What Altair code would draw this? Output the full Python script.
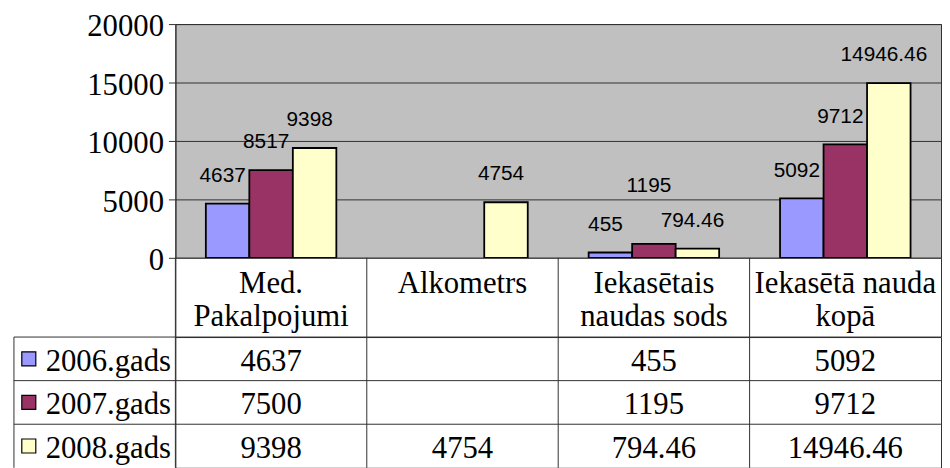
import altair as alt
import pandas as pd

categories = ["Med.\nPakalpojumi", "Alkometrs", "Iekasētais\nnaudas sods", "Iekasētā nauda\nkopā"]
series = ["2006.gads", "2007.gads", "2008.gads"]
values_2006 = [4637, None, 455, 5092]
values_2007 = [7500, None, 1195, 9712]
values_2008 = [9398, 4754, 794.46, 14946.46]
labels_2006 = ["4637", None, "455", "5092"]
labels_2007 = ["8517", None, "1195", "9712"]
labels_2008 = ["9398", "4754", "794.46", "14946.46"]
colors = ["#9999FF", "#993366", "#FFFFCC"]
y_ticks = [0, 5000, 10000, 15000, 20000]

LINE = "#303030"
SERIF = "Liberation Serif"
W = 773
H_TOP = 236
H_HEAD = 80
H_TAB = 132
LAB_FS = 21
PAD_OUT = 0.7

rows = []
for s, vals, labs in zip(series, [values_2006, values_2007, values_2008],
                         [labels_2006, labels_2007, labels_2008]):
    for c, v, l in zip(categories, vals, labs):
        rows.append({"category": c, "series": s, "value": v, "label": l,
                     "table_text": "" if v is None else str(v)})
df = pd.DataFrame(rows)
bars_df = df.dropna(subset=["value"]).copy()

# simple label collision avoidance: when neighbouring labels would collide,
# raise the label of the taller bar by one label line
bar_step = (W / len(categories)) / (len(series) + 2 * PAD_OUT)
bars_df["raised"] = False
for c in categories:
    grp = bars_df[bars_df["category"] == c]
    idx = list(grp.index)
    for a, b in zip(idx[:-1], idx[1:]):
        sa, sb = series.index(bars_df.at[a, "series"]), series.index(bars_df.at[b, "series"])
        wa = len(bars_df.at[a, "label"]) * 0.556 * LAB_FS
        wb = len(bars_df.at[b, "label"]) * 0.556 * LAB_FS
        dh = abs(bars_df.at[a, "value"] - bars_df.at[b, "value"]) * H_TOP / 20000
        if (wa + wb) / 2 > bar_step * (sb - sa) and dh < LAB_FS:
            hi = a if bars_df.at[a, "value"] > bars_df.at[b, "value"] else b
            bars_df.at[hi, "raised"] = True
normal_df = bars_df[~bars_df["raised"]]
raised_df = bars_df[bars_df["raised"]]

cat_df = pd.DataFrame({"category": categories})
ser_df = pd.DataFrame({"series": series})
one_df = pd.DataFrame({"k": [0]})

x_scale = alt.Scale(domain=categories, paddingInner=0, paddingOuter=0)
x_enc = alt.X("category:N", sort=categories, scale=x_scale, axis=None)
x_edge = alt.X("category:N", sort=categories, scale=x_scale, axis=None, bandPosition=0)
off_enc = alt.XOffset("series:N", sort=series,
                      scale=alt.Scale(domain=series, paddingInner=0, paddingOuter=PAD_OUT))
color_scale = alt.Scale(domain=series, range=colors)
y_val = alt.Y("value:Q", scale=alt.Scale(domain=[0, 20000], nice=False),
              axis=alt.Axis(values=y_ticks, format="d", title=None,
                            labelFont=SERIF, labelFontSize=31, labelColor="black",
                            labelOffset=3,
                            tickColor=LINE, tickSize=7, domainColor=LINE,
                            gridColor=LINE, grid=True, labelPadding=5))

# --- bar chart ---
bars = alt.Chart(bars_df).mark_bar(stroke="black", strokeWidth=1.8).encode(
    x=x_enc, xOffset=off_enc, y=y_val,
    color=alt.Color("series:N", scale=color_scale, legend=None),
)
lab_style = dict(font="Liberation Sans", fontSize=LAB_FS, baseline="middle", dx=-5, color="black")
labels_a = alt.Chart(normal_df).mark_text(dy=-28, **lab_style).encode(
    x=x_enc, xOffset=off_enc, y="value:Q", text="label:N")
labels_b = alt.Chart(raised_df).mark_text(dy=-58, **lab_style).encode(
    x=x_enc, xOffset=off_enc, y="value:Q", text="label:N")

top = alt.layer(bars, labels_a, labels_b).properties(
    width=W, height=H_TOP, view=alt.ViewBackground(fill="#C0C0C0", stroke=LINE))

# --- header row of the data table ---
head_rules = alt.Chart(cat_df).mark_rule(color=LINE).encode(x=x_edge)
head_text = alt.Chart(cat_df).mark_text(
    font=SERIF, fontSize=31, lineBreak="\n", lineHeight=33, baseline="middle",
    dy=-13, color="black"
).encode(x=x_enc, text="category:N")
header = alt.layer(head_rules, head_text).properties(
    width=W, height=H_HEAD, view=alt.ViewBackground(fill="white", stroke=LINE))

# --- data rows ---
y_scale = alt.Scale(domain=series, paddingInner=0, paddingOuter=0)
y_rows = alt.Y("series:N", sort=series, scale=y_scale, axis=None)
y_edge = alt.Y("series:N", sort=series, scale=y_scale, axis=None, bandPosition=0)

cells = alt.Chart(df).mark_text(font=SERIF, fontSize=31, baseline="middle", dy=3,
                                color="black").encode(
    x=x_enc, y=y_rows, text="table_text:N")
names = alt.Chart(ser_df).mark_text(font=SERIF, fontSize=31, align="left", baseline="middle",
                                    dy=3, color="black").encode(
    x=alt.value(-131), y=y_rows, text="series:N")
swatches = alt.Chart(ser_df).mark_point(shape="square", filled=True, size=200, stroke="black",
                                        strokeWidth=1.2, opacity=1).encode(
    x=alt.value(-148), y=y_rows,
    fill=alt.Fill("series:N", scale=color_scale, legend=None))
hlines = alt.Chart(ser_df).mark_rule(color=LINE).encode(
    y=y_edge, x=alt.value(-163), x2=alt.value(W))
vlines = alt.Chart(cat_df).mark_rule(color=LINE).encode(x=x_edge)
left_border = alt.Chart(one_df).mark_rule(color=LINE).encode(
    x=alt.value(-163), y=alt.value(0), y2=alt.value(H_TAB))

table = alt.layer(vlines, hlines, left_border, swatches, names, cells).properties(
    width=W, height=H_TAB, view=alt.ViewBackground(fill="white", stroke=LINE))

chart = alt.vconcat(top, header, table, spacing=0, bounds="flush").properties(
    padding={"left": 5, "top": 0, "right": 0, "bottom": 0},
    background="white",
)

chart.save("out.html", embed_options={"renderer": "svg", "actions": False})
